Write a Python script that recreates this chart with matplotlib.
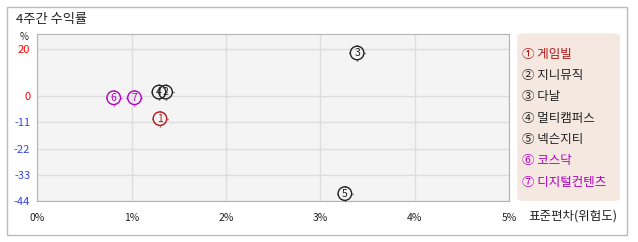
import matplotlib
matplotlib.use("Agg")
import matplotlib.pyplot as plt
from matplotlib.path import Path
from matplotlib.patches import Rectangle, FancyBboxPatch

plt.rcParams['font.family'] = ['Noto Sans CJK KR', 'DejaVu Sans']

# data
names = ['게임빌', '지니뮤직', '다날', '멀티캠퍼스', '넥슨지티', '코스닥', '디지털컨텐츠']
circled = ['①', '②', '③', '④', '⑤', '⑥', '⑦']
risk = [1.30, 1.36, 3.39, 1.29, 3.26, 0.81, 1.03]      # 표준편차 %
ret = [-9.4, 1.8, 18.3, 1.8, -41.0, -0.6, -0.6]        # 4주간 수익률 %
colors = ['#b01818', '#222222', '#222222', '#222222', '#222222', '#b000c0', '#b000c0']

xticks = [0, 1, 2, 3, 4, 5]
xtick_labels = ['0%', '1%', '2%', '3%', '4%', '5%']
yticks = [20, 0, -11, -22, -33, -44]
ytick_colors = ['red', 'red', '#3344ee', '#3344ee', '#3344ee', '#3344ee']

fig = plt.figure(figsize=(6.38, 2.42), dpi=100)
W, H = 638, 242

# outer frame
fig.patches.append(Rectangle((6.7 / W, 1 - 235.3 / H), (627.3 - 6.7) / W, (235.3 - 6.7) / H,
                             transform=fig.transFigure, fill=False, ec='#bbbbbb', lw=1))
fig.text(16 / W, 1 - 19 / H, '4주간 수익률', fontsize=9.5, color='#222222', va='center')
fig.text(24 / W, 1 - 37 / H, '%', fontsize=7, color='#222222', va='center', ha='center')

ax = fig.add_axes([37.3 / W, 1 - 200.7 / H, (509 - 37.3) / W, (200.7 - 34) / H])
ax.set_facecolor('#f4f4f4')
ax.set_xlim(0, 5)
ax.set_ylim(-44, 26.3)
for s in ax.spines.values():
    s.set_color('#b4b4b4')
ax.set_xticks(xticks)
ax.set_xticklabels(xtick_labels, fontsize=7.5, color='#222222')
ax.set_yticks(yticks)
ax.set_yticklabels([str(v) for v in yticks], fontsize=8)
for lab, c in zip(ax.get_yticklabels(), ytick_colors):
    lab.set_color(c)
ax.tick_params(length=0, pad=5)
ax.tick_params(axis='x', pad=9)
ax.grid(True, color='#dddddd', lw=1)
ax.set_axisbelow(True)

# short tick marks around each marker
tick_path = Path([(0, 1), (0, 1.2), (0, -1), (0, -1.2), (1, 0), (1.2, 0), (-1, 0), (-1.2, 0)],
                 [Path.MOVETO, Path.LINETO] * 4)
for i in range(len(names)):
    ax.scatter(risk[i], ret[i], s=95, marker='o', facecolor='none', edgecolor=colors[i], lw=1, zorder=3)
    ax.scatter(risk[i], ret[i], s=135, marker=tick_path, color=colors[i], lw=1, zorder=3)
    ax.text(risk[i], ret[i], str(i + 1), fontsize=7.5, color=colors[i], ha='center', va='center', zorder=4)

fig.text(528 / W, 1 - 216.5 / H, '표준편차(위험도)', fontsize=9, color='#222222', va='center')

# legend box
fig.patches.append(FancyBboxPatch((517.3 / W, 1 - 201 / H), (620 - 517.3) / W, (201 - 33.3) / H,
                                  boxstyle='round,pad=0,rounding_size=0.012', transform=fig.transFigure,
                                  fc='#f5e8e1', ec='none'))
for i in range(len(names)):
    fig.text(521.5 / W, 1 - (54.3 + i * 21.3) / H, circled[i] + ' ' + names[i], fontsize=9,
             color=colors[i], va='center')

fig.savefig('out.png', dpi=100)
